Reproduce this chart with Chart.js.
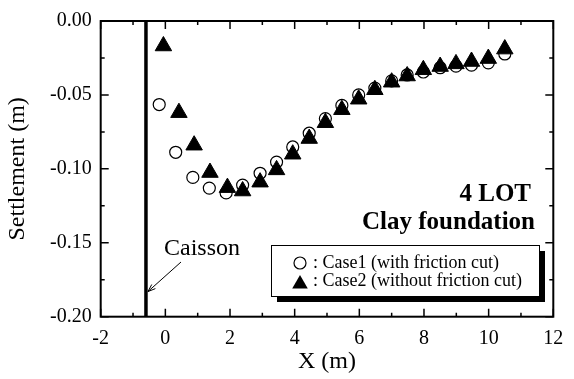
<!DOCTYPE html>
<html>
<head>
<meta charset="utf-8">
<script src="https://cdn.jsdelivr.net/npm/chart.js@4.4.0/dist/chart.umd.min.js"></script>
<style>
  html, body { margin: 0; padding: 0; background: #fff; }
  #wrap { width: 574px; height: 379px; }
</style>
</head>
<body>
<div id="wrap"><canvas id="settlementChart" width="574" height="379"></canvas></div>
<script>
// --- DATA ---
// Case1: with friction cut
const case1X = [-0.19, 0.32, 0.85, 1.36, 1.88, 2.39, 2.93, 3.44, 3.94, 4.45, 4.95,
                5.46, 5.98, 6.48, 7.0, 7.48, 7.98, 8.5, 8.99, 9.47, 9.99, 10.5];
const case1Y = [-0.0565, -0.0888, -0.1058, -0.113, -0.1163, -0.111, -0.103, -0.0954, -0.0852, -0.0759, -0.066,
                -0.0571, -0.050, -0.0454, -0.0405, -0.0365, -0.0345, -0.0316, -0.0305, -0.0299, -0.0283, -0.0223];
// Case2: without friction cut
const case2X = [-0.06, 0.42, 0.89, 1.38, 1.92, 2.39, 2.93, 3.44, 3.94, 4.45, 4.95,
                5.46, 5.98, 6.48, 7.0, 7.48, 7.98, 8.5, 8.99, 9.47, 9.99, 10.5];
const case2Y = [-0.0169, -0.062, -0.084, -0.1025, -0.1127, -0.115, -0.109, -0.1007, -0.0901, -0.0795, -0.0688,
                -0.060, -0.0529, -0.0465, -0.0414, -0.0372, -0.033, -0.0308, -0.029, -0.0274, -0.0254, -0.019];

const caissonX = -0.6;
const xTickValues = [-2, 0, 2, 4, 6, 8, 10, 12];
const yTickValues = [0, -0.05, -0.10, -0.15, -0.20];
const legendLabels = [': Case1 (with friction cut)', ': Case2 (without friction cut)'];
const noteLines = ['4 LOT', 'Clay foundation'];
const caissonLabel = 'Caisson';

const FONT = '"Liberation Serif", "Times New Roman", serif';

// --- HELPERS ---
function toPoints(xs, ys) { return xs.map((x, i) => ({ x: x, y: ys[i] })); }

function drawCircle(ctx, x, y, r) {
    ctx.beginPath();
    ctx.arc(x, y, r, 0, Math.PI * 2);
    ctx.fillStyle = '#fff';
    ctx.fill();
    ctx.lineWidth = 1.2;
    ctx.strokeStyle = '#000';
    ctx.stroke();
}

function drawTriangle(ctx, x, y, r) {
    // same geometry as Chart.js 'triangle' point style
    ctx.beginPath();
    ctx.moveTo(x, y - r);
    ctx.lineTo(x + r * Math.sin(2 * Math.PI / 3), y + r * 0.5);
    ctx.lineTo(x - r * Math.sin(2 * Math.PI / 3), y + r * 0.5);
    ctx.closePath();
    ctx.fillStyle = '#000';
    ctx.fill();
}

// frame, inward ticks, legend and notes
const decorations = {
    id: 'decorations',
    afterDatasetsDraw(chart) {
        const { ctx, chartArea: a, scales: { x, y } } = chart;
        ctx.save();
        ctx.strokeStyle = '#000';
        ctx.lineWidth = 2;
        ctx.strokeRect(a.left, a.top, a.right - a.left, a.bottom - a.top);

        // x ticks every 1 m, long ones on labelled values
        ctx.lineWidth = 1.5;
        for (let v = x.min; v <= x.max; v += 1) {
            const px = x.getPixelForValue(v);
            const len = xTickValues.includes(v) ? 8 : 4;
            ctx.beginPath();
            ctx.moveTo(px, a.bottom); ctx.lineTo(px, a.bottom - len);
            ctx.moveTo(px, a.top); ctx.lineTo(px, a.top + len);
            ctx.stroke();
        }
        // y ticks every 0.025 m
        for (let i = 0; i <= 8; i++) {
            const py = y.getPixelForValue(-i * 0.025);
            const len = i % 2 === 0 ? 8 : 4;
            ctx.beginPath();
            ctx.moveTo(a.left, py); ctx.lineTo(a.left + len, py);
            ctx.moveTo(a.right, py); ctx.lineTo(a.right - len, py);
            ctx.stroke();
        }

        // legend box with drop shadow
        const bx = 271, by = 245, bw = 268, bh = 51;
        ctx.fillStyle = '#000';
        ctx.fillRect(bx + 6, by + 6, bw, bh);
        ctx.fillStyle = '#fff';
        ctx.fillRect(bx, by, bw, bh);
        ctx.lineWidth = 1;
        ctx.strokeRect(bx + 0.5, by + 0.5, bw, bh);

        drawCircle(ctx, 300, by + 18, 6);
        drawTriangle(ctx, 300, by + 39, 9);
        ctx.fillStyle = '#000';
        ctx.font = '18px ' + FONT;
        ctx.textBaseline = 'middle';
        ctx.textAlign = 'left';
        ctx.fillText(legendLabels[0], 313, by + 18);
        ctx.fillText(legendLabels[1], 313, by + 36);

        // site notes
        ctx.font = 'bold 25px ' + FONT;
        ctx.textAlign = 'right';
        ctx.textBaseline = 'alphabetic';
        ctx.fillText(noteLines[0], 531, 201);
        ctx.fillText(noteLines[1], 535, 229);

        // caisson label and arrow
        ctx.font = '24px ' + FONT;
        ctx.textAlign = 'left';
        ctx.fillText(caissonLabel, 164, 255);
        const ex = x.getPixelForValue(caissonX) + 2, ey = y.getPixelForValue(-0.183);
        const sx = 181, sy = 262;
        ctx.lineWidth = 1;
        ctx.beginPath();
        ctx.moveTo(sx, sy); ctx.lineTo(ex, ey);
        ctx.stroke();
        const ang = Math.atan2(ey - sy, ex - sx);
        ctx.beginPath();
        ctx.moveTo(ex - 8 * Math.cos(ang - 0.35), ey - 8 * Math.sin(ang - 0.35));
        ctx.lineTo(ex, ey);
        ctx.lineTo(ex - 8 * Math.cos(ang + 0.35), ey - 8 * Math.sin(ang + 0.35));
        ctx.stroke();
        ctx.restore();
    }
};

// --- CHART ---
const ctx = document.getElementById('settlementChart').getContext('2d');
new Chart(ctx, {
    type: 'scatter',
    data: {
        datasets: [
            {
                label: 'Case2 (without friction cut)',
                data: toPoints(case2X, case2Y),
                pointStyle: 'triangle',
                pointRadius: 9.5,
                backgroundColor: '#000',
                borderColor: '#000',
                borderWidth: 1,
                order: 0
            },
            {
                label: 'Case1 (with friction cut)',
                data: toPoints(case1X, case1Y),
                pointStyle: 'circle',
                pointRadius: 6,
                backgroundColor: '#fff',
                borderColor: '#000',
                borderWidth: 1.2,
                order: 1
            },
            {
                label: 'Caisson',
                data: [{ x: caissonX, y: 0 }, { x: caissonX, y: -0.2 }],
                showLine: true,
                pointRadius: 0,
                borderColor: '#000',
                borderWidth: 3.5,
                order: 2
            }
        ]
    },
    options: {
        responsive: false,
        animation: false,
        devicePixelRatio: 1,
        layout: { padding: { left: 0, right: 20.7, top: 15.7, bottom: 0 } },
        plugins: {
            legend: { display: false },
            tooltip: { enabled: false }
        },
        scales: {
            x: {
                type: 'linear',
                min: -2,
                max: 12,
                afterBuildTicks: (scale) => { scale.ticks = xTickValues.map(v => ({ value: v })); },
                afterFit: (scale) => { scale.height = 62.3; },
                grid: { display: false, drawTicks: false },
                border: { display: false },
                ticks: {
                    color: '#000',
                    font: { family: FONT, size: 20 },
                    padding: 10,
                    maxRotation: 0,
                    autoSkip: false
                },
                title: {
                    display: true,
                    text: 'X (m)',
                    color: '#000',
                    font: { family: FONT, size: 24 },
                    padding: { top: 0, bottom: 2.6 }
                }
            },
            y: {
                type: 'linear',
                min: -0.2,
                max: 0,
                afterBuildTicks: (scale) => { scale.ticks = yTickValues.map(v => ({ value: v })); },
                afterFit: (scale) => { scale.width = 100.7; },
                grid: { display: false, drawTicks: false },
                border: { display: false },
                ticks: {
                    color: '#000',
                    font: { family: FONT, size: 20 },
                    padding: 9,
                    callback: (v) => v.toFixed(2)
                },
                title: {
                    display: true,
                    text: 'Settlement (m)',
                    color: '#000',
                    font: { family: FONT, size: 24 },
                    padding: { top: 3.6, bottom: 0 }
                }
            }
        }
    },
    plugins: [decorations]
});
</script>
</body>
</html>
